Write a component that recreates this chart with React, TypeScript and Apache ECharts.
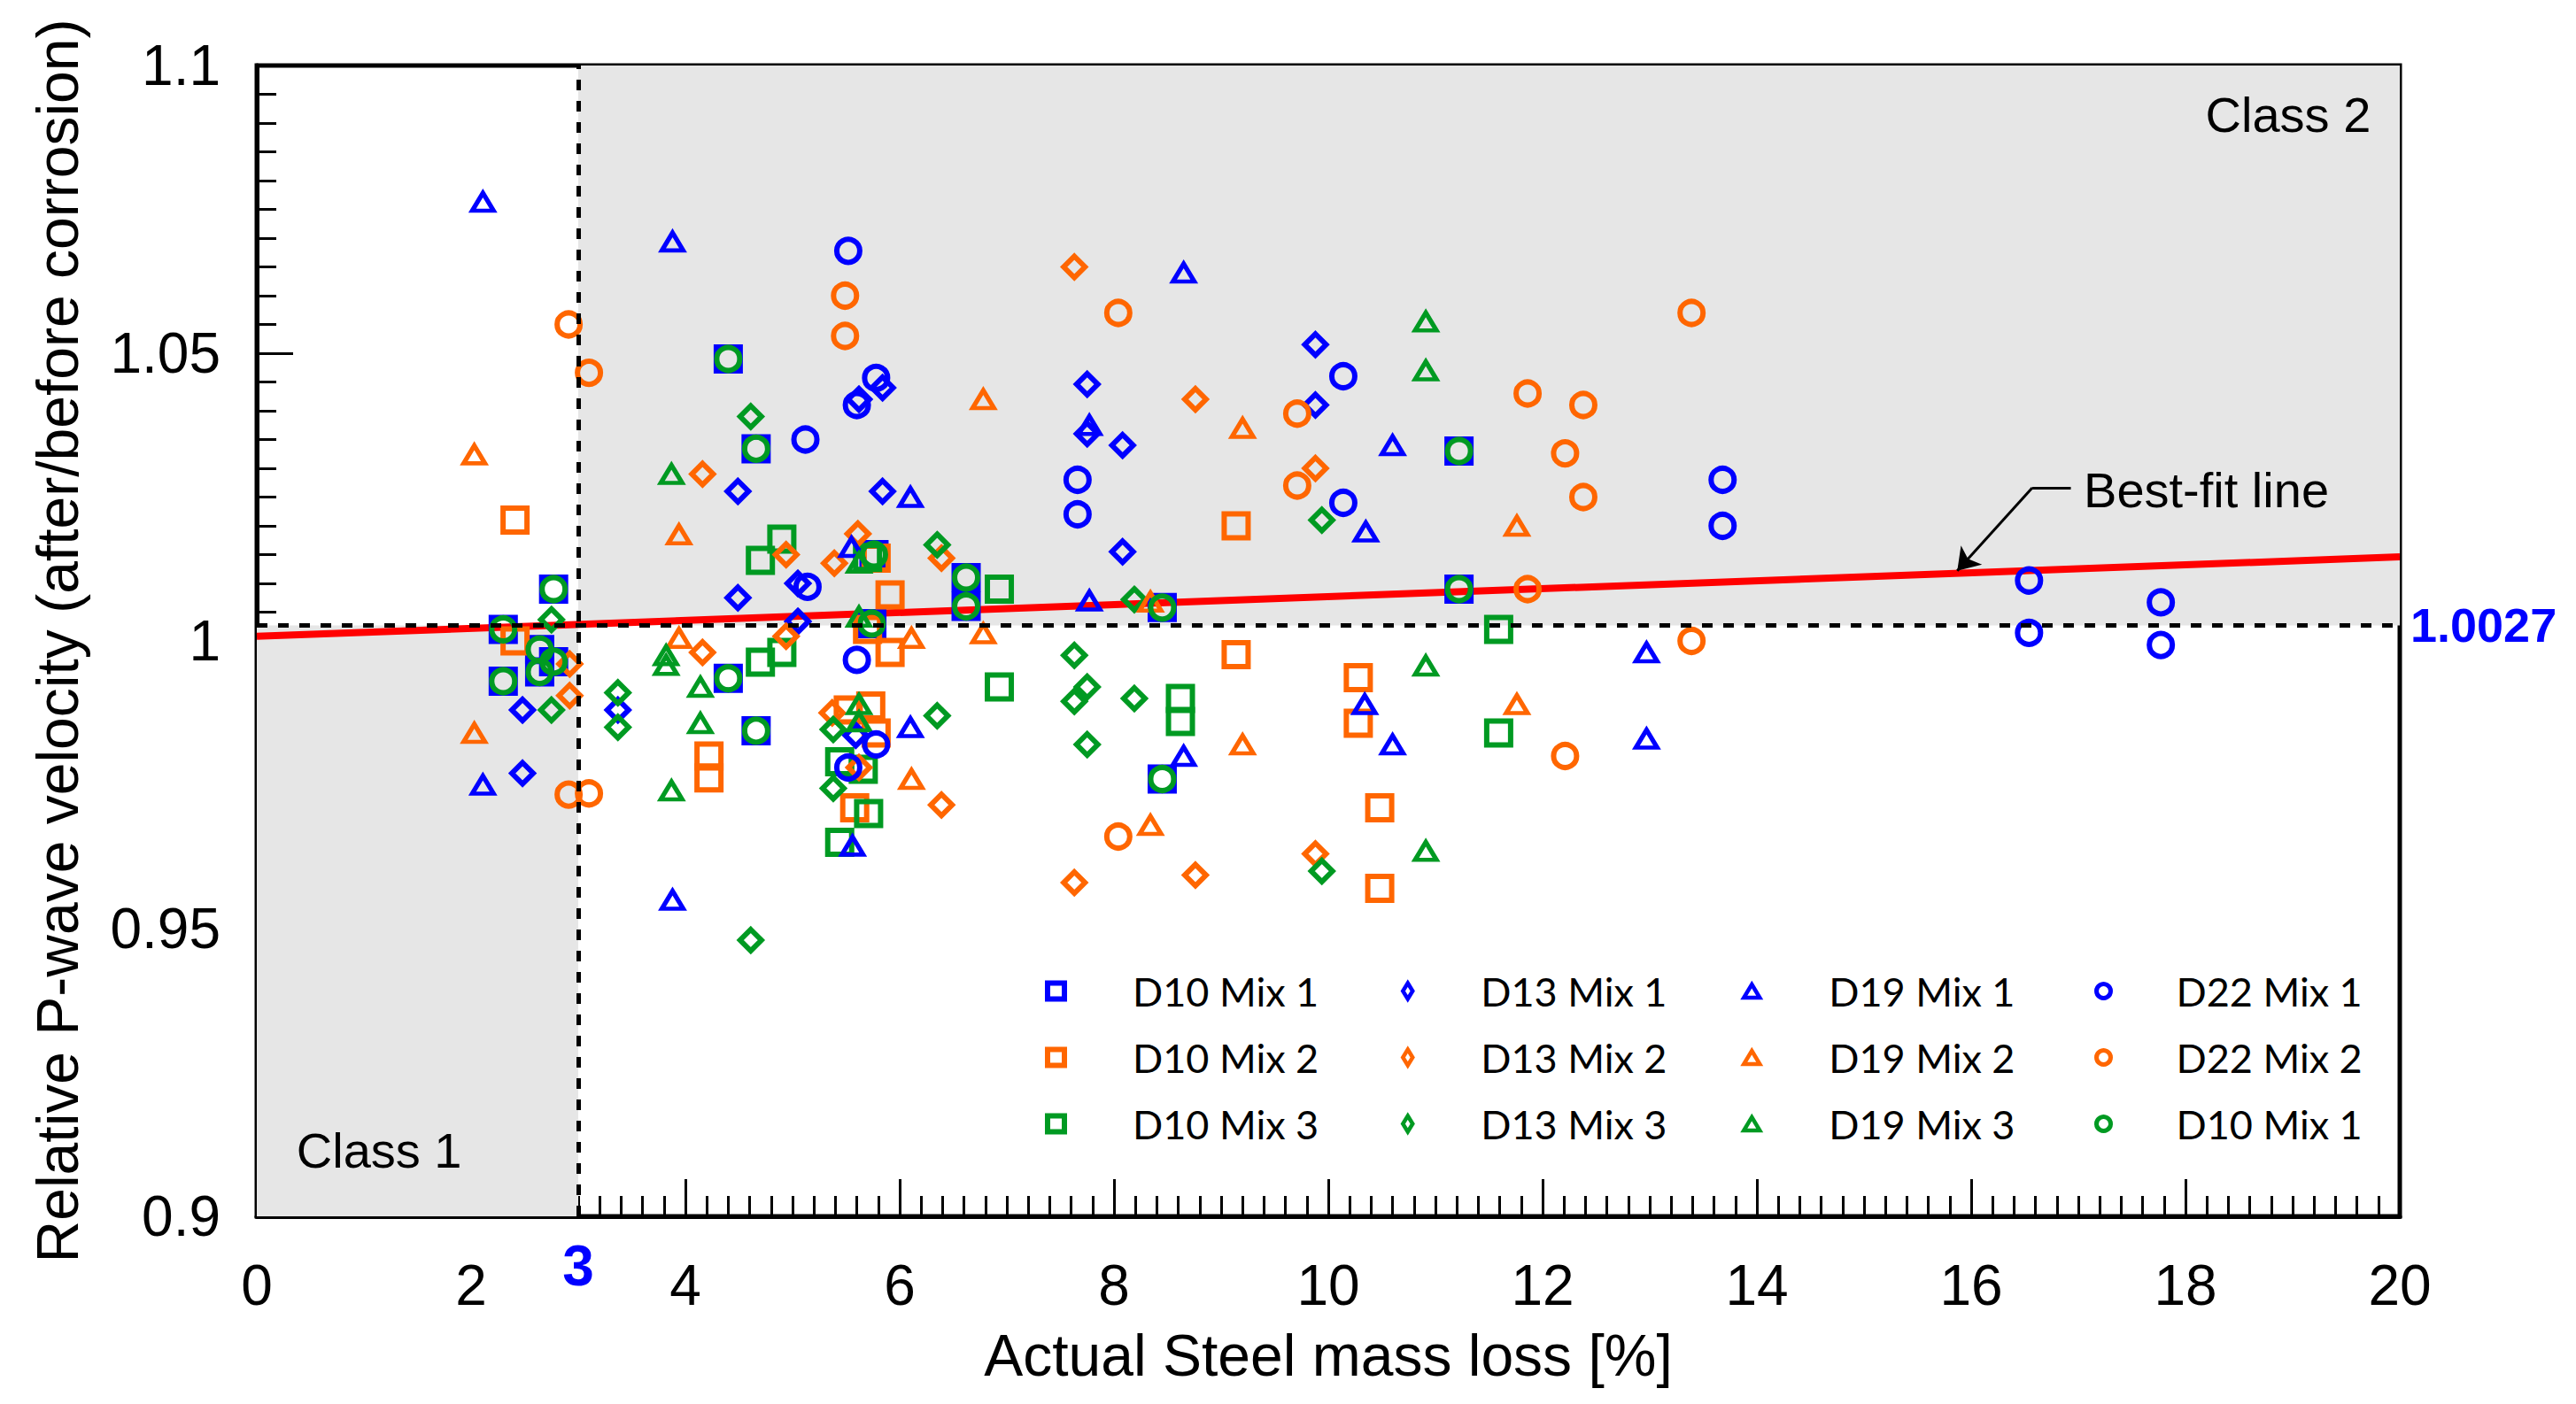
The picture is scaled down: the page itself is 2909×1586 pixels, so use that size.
import { useEffect, useRef } from 'react';
import * as echarts from 'echarts';

type Pt = [number, number];

// x: actual steel mass loss [%], y: relative P-wave velocity
const d10Mix1: Pt[] = [
  [2.30, 1.002], [2.30, 0.993], [2.64, 0.9985], [2.64, 0.9946], [2.77, 1.009], [2.77, 0.9964],
  [4.40, 1.049], [4.40, 0.9935], [4.66, 1.0334], [4.66, 0.9844], [5.74, 1.003], [5.76, 1.015],
  [6.62, 1.011], [6.62, 1.006], [8.45, 1.0058], [8.45, 0.976], [11.22, 1.033], [11.22, 1.009],
];
const d10Mix2: Pt[] = [
  [2.41, 1.021], [2.41, 1.0], [4.22, 0.980], [4.22, 0.9762], [5.52, 0.988], [5.73, 0.9887],
  [5.78, 0.984], [5.58, 0.971], [5.70, 1.002], [5.78, 1.0144], [5.91, 1.008], [5.91, 0.998],
  [9.14, 1.020], [9.14, 0.9976], [10.28, 0.9936], [10.28, 0.9857], [10.48, 0.971], [10.48, 0.957],
];
const d10Mix3: Pt[] = [
  [4.70, 1.014], [4.90, 1.0177], [4.70, 0.9963], [4.90, 0.998], [5.70, 1.0145], [5.44, 0.979],
  [5.66, 0.9777], [5.71, 0.970], [5.44, 0.965], [6.93, 1.009], [6.93, 0.992], [8.62, 0.990],
  [8.62, 0.986], [11.59, 1.002], [11.59, 0.984],
];
const d13Mix1: Pt[] = [
  [2.48, 0.988], [2.48, 0.977], [3.37, 0.988], [4.49, 1.026], [4.49, 1.0075], [5.05, 1.010],
  [5.05, 1.0034], [5.59, 0.9836], [5.62, 1.042], [5.84, 1.044], [5.84, 1.026], [7.75, 1.0446],
  [7.75, 1.036], [8.08, 1.034], [8.08, 1.0155], [9.88, 1.0515], [9.88, 1.041],
];
const d13Mix2: Pt[] = [
  [2.92, 0.996], [2.92, 0.9905], [4.16, 1.029], [4.16, 0.998], [4.94, 1.015], [4.94, 1.0008],
  [5.37, 0.9875], [5.39, 1.0135], [5.61, 1.0186], [5.62, 0.978], [6.39, 1.0144], [6.39, 0.9715],
  [7.63, 1.065], [7.63, 0.958], [8.76, 1.042], [8.76, 0.9593], [9.88, 1.030], [9.88, 0.963],
];
const d13Mix3: Pt[] = [
  [2.75, 1.0037], [2.75, 0.988], [3.37, 0.991], [3.37, 0.985], [4.61, 1.039], [4.61, 0.948],
  [5.38, 0.9846], [5.38, 0.9744], [6.35, 1.0167], [6.35, 0.987], [7.63, 0.9975], [7.63, 0.9895],
  [7.75, 0.992], [7.75, 0.982], [8.19, 1.0072], [8.19, 0.990], [9.94, 1.021], [9.94, 0.960],
];
const d19Mix1: Pt[] = [
  [2.11, 1.0763], [2.11, 0.975], [3.88, 1.0694], [3.88, 0.955], [5.55, 1.0163], [5.56, 0.9644],
  [6.10, 1.025], [6.10, 0.985], [7.77, 1.0375], [7.77, 1.007], [8.65, 1.064], [8.65, 0.980],
  [10.35, 1.019], [10.34, 0.989], [10.60, 1.034], [10.60, 0.982], [12.97, 0.998], [12.97, 0.983],
];
const d19Mix2: Pt[] = [
  [2.03, 1.0324], [2.03, 0.984], [3.94, 1.0185], [3.94, 1.0005], [6.11, 1.0005], [6.11, 0.976],
  [6.78, 1.042], [6.78, 1.0013], [8.34, 1.0068], [8.34, 0.968], [9.20, 1.037], [9.20, 0.982],
  [11.76, 1.020], [11.76, 0.989],
];
const d19Mix3: Pt[] = [
  [3.82, 0.9975], [3.82, 0.9958], [3.87, 1.029], [3.87, 0.974], [4.14, 0.992], [4.14, 0.9857],
  [5.62, 1.0136], [5.62, 1.0042], [5.62, 0.989], [5.62, 0.986], [10.91, 1.0555], [10.91, 1.047],
  [10.91, 0.9957], [10.91, 0.9635],
];
const d22Mix1: Pt[] = [
  [5.12, 1.035], [5.14, 1.0094], [5.52, 1.0678], [5.60, 1.041], [5.78, 1.0457], [5.60, 0.9967],
  [5.52, 0.978], [5.78, 0.982], [7.66, 1.028], [7.66, 1.022], [10.14, 1.046], [10.14, 1.024],
  [13.68, 1.028], [13.68, 1.020], [16.54, 1.0105], [16.54, 1.0014], [17.77, 1.0067], [17.77, 0.9993],
];
const d22Mix2: Pt[] = [
  [2.91, 1.055], [3.10, 1.0466], [2.91, 0.9733], [3.10, 0.9735], [5.49, 1.060], [5.49, 1.053],
  [8.04, 1.057], [8.04, 0.966], [9.71, 1.0395], [9.71, 1.027], [11.86, 1.043], [11.86, 1.009],
  [12.38, 1.041], [12.38, 1.025], [12.21, 1.0326], [12.21, 0.980], [13.39, 1.057], [13.39, 1.0],
];
// green circles sit exactly on the blue squares in the source figure
const d22Mix3: Pt[] = d10Mix1;

const bestFitLine: Pt[] = [[0, 1.0008], [20, 1.0146]];
const classBoundaryX = 3;
const classBoundaryY = 1.0027;
const X_MIN = 0, X_MAX = 20, Y_MIN = 0.9, Y_MAX = 1.1;

const BLUE = '#0000ff';
const ORANGE = '#ff6600';
const GREEN = '#009a22';
const FONT = '"Liberation Sans", Arial, sans-serif';

const SERIES = [
  { name: 'D10 Mix 1', data: d10Mix1, shape: 'rect', color: BLUE },
  { name: 'D10 Mix 2', data: d10Mix2, shape: 'rect', color: ORANGE },
  { name: 'D10 Mix 3', data: d10Mix3, shape: 'rect', color: GREEN },
  { name: 'D13 Mix 1', data: d13Mix1, shape: 'diamond', color: BLUE },
  { name: 'D13 Mix 2', data: d13Mix2, shape: 'diamond', color: ORANGE },
  { name: 'D13 Mix 3', data: d13Mix3, shape: 'diamond', color: GREEN },
  { name: 'D19 Mix 1', data: d19Mix1, shape: 'triangle', color: BLUE },
  { name: 'D19 Mix 2', data: d19Mix2, shape: 'triangle', color: ORANGE },
  { name: 'D19 Mix 3', data: d19Mix3, shape: 'triangle', color: GREEN },
  { name: 'D22 Mix 1', data: d22Mix1, shape: 'circle', color: BLUE },
  { name: 'D22 Mix 2', data: d22Mix2, shape: 'circle', color: ORANGE },
  { name: 'D22 Mix 3', data: d22Mix3, shape: 'circle', color: GREEN },
];

// marker size / stroke per shape (plot)
const MARK: Record<string, { size: number | number[]; bw: number }> = {
  rect: { size: 27, bw: 6 },
  diamond: { size: 24, bw: 6 },
  triangle: { size: [24, 20], bw: 5 },
  circle: { size: 26, bw: 6 },
};

// legend columns: icon size, stroke, left, text padding
const LEGEND_COLS = [
  { shape: 'rect', w: 19, h: 18, bw: 6, left: 1167, pad: 72 },
  { shape: 'diamond', w: 11, h: 18, bw: 4.5, left: 1569, pad: 72 },
  { shape: 'triangle', w: 18, h: 15, bw: 4.5, left: 1954, pad: 73 },
  { shape: 'circle', w: 16, h: 16, bw: 5, left: 2352, pad: 69 },
];

export default function App() {
  const chartRef = useRef<HTMLDivElement>(null);

  useEffect(() => {
    if (!chartRef.current) return;
    const chart = echarts.init(chartRef.current, undefined, { renderer: 'svg' });

    const legends = LEGEND_COLS.map(col => {
      const items = SERIES.filter(s => s.shape === col.shape);
      return {
        orient: 'vertical',
        left: col.left,
        top: 1084,
        itemWidth: col.w,
        itemHeight: col.h,
        itemGap: 30,
        selectedMode: false,
        formatter: (name: string) => (name === 'D22 Mix 3' ? 'D10 Mix 1' : name),
        textStyle: {
          fontFamily: 'Lato, "Open Sans", sans-serif',
          fontSize: 45,
          lineHeight: 45,
          color: '#000',
          padding: [0, 0, 0, col.pad],
        },
        data: items.map(s => ({
          name: s.name,
          icon: col.shape,
          itemStyle: { color: 'transparent', borderColor: s.color, borderWidth: col.bw },
        })),
      };
    });

    const scatter = SERIES.map(s => ({
      name: s.name,
      type: 'scatter',
      data: s.data,
      symbol: s.shape,
      symbolSize: MARK[s.shape].size,
      z: 3,
      itemStyle: { color: 'transparent', borderColor: s.color, borderWidth: MARK[s.shape].bw, opacity: 1 },
      emphasis: { disabled: true },
    }));

    const textStyle = { fontFamily: FONT, fontSize: 56, color: '#000' };

    const option: any = {
      animation: false,
      legend: legends,
      grid: {
        left: 282,
        top: 66,
        right: 191,
        bottom: 204,
        show: true,
        borderColor: '#000',
        borderWidth: 5,
        backgroundColor: 'transparent',
      },
      xAxis: {
        type: 'value',
        min: X_MIN,
        max: X_MAX,
        interval: 2,
        name: 'Actual Steel mass loss [%]',
        nameLocation: 'middle',
        nameGap: 124,
        nameTextStyle: { fontFamily: FONT, fontSize: 66, color: '#000' },
        axisLine: { lineStyle: { color: '#000', width: 5 } },
        axisTick: { inside: true, length: 42, lineStyle: { color: '#000', width: 3 } },
        minorTick: { show: true, splitNumber: 10, length: 23, lineStyle: { color: '#000', width: 3 } },
        axisLabel: { fontFamily: FONT, fontSize: 64, color: '#000', margin: 46 },
        splitLine: { show: false },
      },
      yAxis: {
        type: 'value',
        min: Y_MIN,
        max: Y_MAX,
        interval: 0.05,
        name: 'Relative P-wave velocity (after/before corrosion)',
        nameLocation: 'middle',
        nameGap: 192,
        nameTextStyle: { fontFamily: FONT, fontSize: 66, color: '#000' },
        axisLine: { lineStyle: { color: '#000', width: 5 } },
        axisTick: { inside: true, length: 41, lineStyle: { color: '#000', width: 3 } },
        minorTick: { show: true, splitNumber: 10, length: 22, lineStyle: { color: '#000', width: 3 } },
        axisLabel: { fontFamily: FONT, fontSize: 64, color: '#000', margin: 41 },
        splitLine: { show: false },
      },
      series: [
        // class shading
        {
          type: 'line',
          data: [],
          z: 0,
          silent: true,
          markArea: {
            silent: true,
            itemStyle: { color: '#e6e6e6' },
            data: [
              [{ coord: [X_MIN, Y_MIN] }, { coord: [classBoundaryX, classBoundaryY] }],
              [{ coord: [classBoundaryX, classBoundaryY] }, { coord: [X_MAX, Y_MAX] }],
            ],
          },
        },
        // class boundaries
        {
          type: 'line',
          data: [],
          z: 1,
          silent: true,
          markLine: {
            silent: true,
            symbol: ['none', 'none'],
            label: { show: false },
            lineStyle: { color: '#000', width: 5, type: [12, 12] },
            data: [
              [{ coord: [classBoundaryX, Y_MIN] }, { coord: [classBoundaryX, Y_MAX] }],
              [{ coord: [X_MIN, classBoundaryY] }, { coord: [X_MAX, classBoundaryY] }],
            ],
          },
        },
        {
          name: 'Best-fit line',
          type: 'line',
          data: bestFitLine,
          z: 2,
          symbol: 'none',
          silent: true,
          lineStyle: { color: '#ff0000', width: 8 },
        },
        ...scatter,
        // annotations
        {
          type: 'line',
          data: [],
          z: 5,
          silent: true,
          markLine: {
            silent: true,
            label: { show: false },
            symbolSize: 24,
            lineStyle: { color: '#000', width: 3, type: 'solid' },
            data: [
              [{ coord: [16.93, 1.0266], symbol: 'none' }, { coord: [16.57, 1.0266], symbol: 'none' }],
              [{ coord: [16.57, 1.0266], symbol: 'none' }, { coord: [15.87, 1.0122], symbol: 'arrow' }],
            ],
          },
          markPoint: {
            silent: true,
            symbol: 'circle',
            symbolSize: 0,
            data: [
              {
                name: 'Class 2',
                coord: [19.73, 1.0914],
                label: { show: true, formatter: 'Class 2', position: 'left', distance: 0, ...textStyle },
              },
              {
                name: 'Class 1',
                coord: [0.37, 0.9115],
                label: { show: true, formatter: 'Class 1', position: 'right', distance: 0, ...textStyle },
              },
              {
                name: 'Best-fit line',
                coord: [17.05, 1.0262],
                label: { show: true, formatter: 'Best-fit line', position: 'right', distance: 0, ...textStyle },
              },
              {
                name: '1.0027',
                coord: [X_MAX, classBoundaryY],
                label: {
                  show: true, formatter: '1.0027', position: 'right', distance: 12,
                  fontFamily: FONT, fontSize: 54, fontWeight: 'bold', color: BLUE,
                },
              },
              {
                name: '3',
                coord: [classBoundaryX, Y_MIN],
                label: {
                  show: true, formatter: '3', position: 'bottom', distance: 24,
                  fontFamily: FONT, fontSize: 64, fontWeight: 'bold', color: BLUE,
                },
              },
            ],
          },
        },
      ],
    };

    chart.setOption(option);

    const handleResize = () => chart.resize();
    window.addEventListener('resize', handleResize);
    return () => {
      window.removeEventListener('resize', handleResize);
      chart.dispose();
    };
  }, []);

  return <div ref={chartRef} style={{ width: 2893, height: 1570 }} />;
}
